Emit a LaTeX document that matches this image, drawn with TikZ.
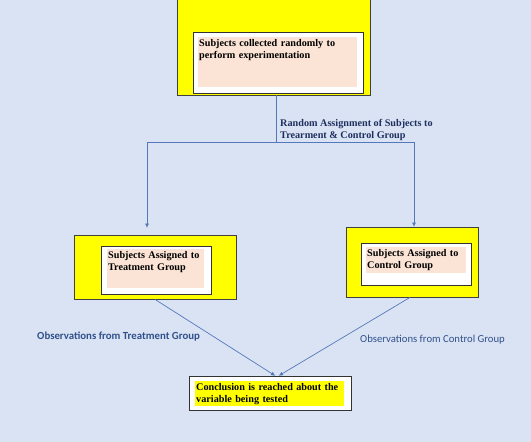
\documentclass[tikz,border=0pt]{standalone}
\usepackage{fontspec}
\setmainfont{Liberation Serif}
\newfontfamily\calibfont{Carlito}
\usetikzlibrary{positioning,arrows.meta,calc}
\definecolor{bgblue}{RGB}{218,227,243}
\definecolor{peach}{RGB}{251,228,214}
\definecolor{linkblue}{RGB}{84,120,186}
\definecolor{navytext}{RGB}{31,48,96}
\definecolor{obstext}{RGB}{47,80,140}
\definecolor{boxyellow}{RGB}{255,255,0}
\tikzset{
  outerbox/.style={
    draw=black!75, fill=boxyellow, line width=0.8pt, inner sep=0pt
  },
  innerbox/.style={
    draw=black!80, fill=white, line width=0.8pt, inner sep=0pt
  },
  hl/.style={
    fill=#1, anchor=north west, align=left,
    inner xsep=1pt, inner ysep=2pt, text height=7.5pt,
    font=\bfseries\fontsize{10.2}{12.2}\selectfont
  },
  link/.style={draw=linkblue, line width=0.7pt},
  arrow/.style={link, -{Triangle[length=4pt,width=3.5pt]}},
  obslabel/.style={anchor=base west, text=obstext, inner sep=0pt,
    font=\calibfont\fontsize{10.7}{12}\selectfont}
}
\begin{document}
\begin{tikzpicture}[x=1pt, y=-1pt]
  \useasboundingbox[fill=bgblue] (0,0) rectangle (531,442);

  % top: subjects collected
  \node[outerbox, minimum width=193, minimum height=98] (collect) at (273.5,46) {};
  \node[innerbox, minimum width=170, minimum height=61] (collectin) at (278,62.5) {};
  \node[hl=peach, text width=157, text depth=38.5] (collecttxt) at (198,37)
       {Subjects collected randomly to\\perform experimentation};

  % treatment group
  \node[outerbox, minimum width=162, minimum height=64] (treat) at (155,267) {};
  \node[innerbox, minimum width=110, minimum height=48] (treatin) at (156,270) {};
  \node[hl=peach, text width=95, text depth=27.5] (treattxt) at (107,249)
       {Subjects Assigned to\\Treatment Group};

  % control group
  \node[outerbox, minimum width=132, minimum height=70] (ctrl) at (412,262) {};
  \node[innerbox, minimum width=110, minimum height=42] (ctrlin) at (416,264) {};
  \node[hl=peach, text width=98, text depth=14.5] (ctrltxt) at (366,247)
       {Subjects Assigned to\\Control Group};

  % conclusion
  \node[innerbox, minimum width=162, minimum height=34] (concl) at (270,393) {};
  \node[hl=boxyellow, text width=147, text depth=13.5] (concltxt) at (195,381)
       {Conclusion is reached about the\\variable being tested};

  % random assignment
  \coordinate (split) at (276,142);
  \draw[link] (split |- collect.south) -- (split);
  \draw[arrow] (split) -| ([xshift=-8pt,yshift=7pt]treat.north);
  \draw[arrow] (split) -| ([xshift=2pt]ctrl.north);
  \node[anchor=north west, align=left, inner sep=0pt, text=navytext,
        font=\bfseries\fontsize{10.2}{12.6}\selectfont] (assign) at (280,119)
       {Random Assignment of Subjects to\\Trearment \& Control Group};

  % observations
  \draw[arrow] (treat.south) -- ([xshift=5pt]concl.north);
  \draw[arrow] ([xshift=-2pt]ctrl.south) -- ([xshift=9pt]concl.north);
  \node[obslabel, font=\calibfont\bfseries\fontsize{10.8}{12}\selectfont] (obstreat) at (37,339)
       {Observations from Treatment Group};
  \node[obslabel] (obsctrl) at (360,342) {Observations from Control Group};
\end{tikzpicture}
\end{document}
